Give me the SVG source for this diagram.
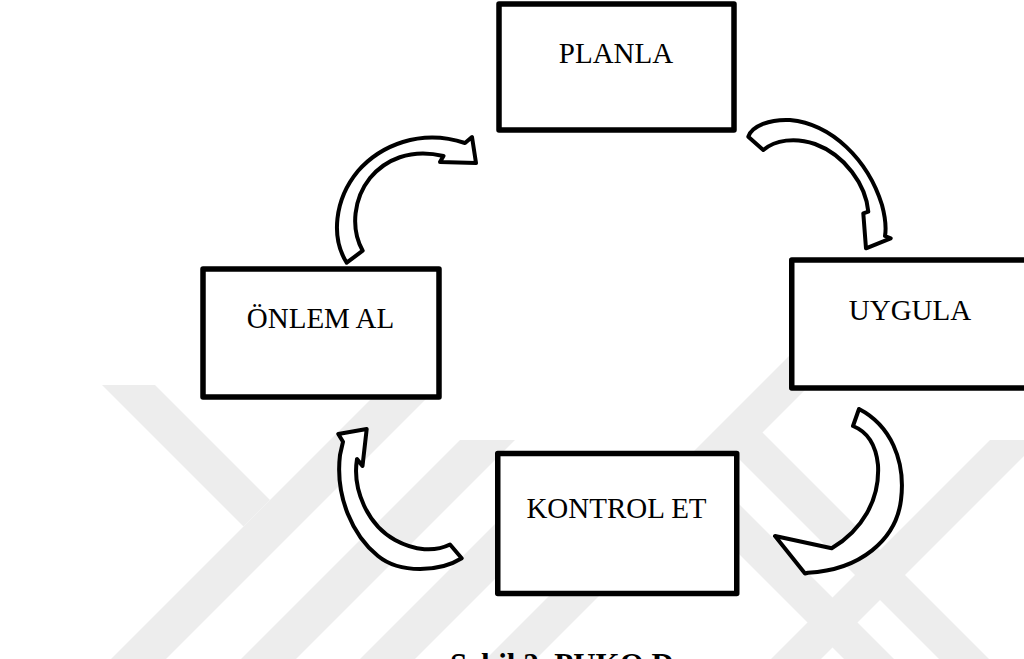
<svg xmlns="http://www.w3.org/2000/svg" width="1024" height="659" viewBox="0 0 1024 659">
  <style>
    .box { fill: #ffffff; stroke: #000000; stroke-width: 5.5; stroke-linejoin: round; }
    .label { font-family: "Liberation Serif", "Times New Roman", serif; font-size: 29px; fill: #000000; text-anchor: middle; }
    .arrow { fill: #ffffff; stroke: #000000; stroke-width: 4; stroke-linejoin: round; }
    .mark { fill: #ededed; }
    .caption { font-family: "Liberation Serif", "Times New Roman", serif; font-size: 31px; font-weight: bold; fill: #000000; }
  </style>

  <rect width="1024" height="659" fill="#ffffff"/>

  <!-- background emblem: light diagonal bands behind the cycle -->
  <g id="emblem">
    <!-- left group -->
    <polygon class="mark" points="385,385 440,385 166,659 111,659"/>
    <polygon class="mark" points="102,385 155,385 270,500 243.5,526.5"/>
    <polygon class="mark" points="460,440 515,440 296,659 241,659"/>
    <polygon class="mark" points="519,500 574,500 415,659 360,659"/>
    <!-- right group -->
    <polygon class="mark" points="855,290 905,290 536,659 486,659"/>
    <polygon class="mark" points="712.5,432.5 762.5,432.5 989,659 939,659"/>
    <polygon class="mark" points="665,480 715,480 894,659 844,659"/>
    <polygon class="mark" points="990,440 1040,440 821,659 771,659"/>
  </g>

  <!-- curved block arrows between the steps -->
  <g id="connectors">
    <path class="arrow" d="M346.7,262.7 C331,238 334,200 358,171 C380,146 420,128 465,143 L472,137 L476,163 L440,162 L443.5,156 C410,148 385,160 370,178 C354,198 350,228 362.7,250.7 Z"/>
    <path class="arrow" d="M748.3,136.7 C752,126 770,119 790,120 C832,124 868,160 882,205 C886,220 886,230 885,236 L890.7,238.3 L866,248.3 L863.3,213.3 L868.3,211.7 C866,185 845,155 815,144 C795,137 775,140 763.3,150 Z"/>
    <path class="arrow" d="M859,409 C890,425 906,460 901,500 C896,540 860,570 808,572.7 L805,573.5 L775,536 L831.7,548.3 C862,530 880,500 878,465 C876,445 868,432 853,426 Z"/>
    <path class="arrow" d="M461.7,558.3 C440,572 400,574 378,556 C353,536 335,497 340,455 L343,441.7 L338.3,434 L366.7,429 L362.5,466 L357,459 C352,490 368,525 395,540 C415,551 435,552 450,544.5 Z"/>
  </g>

  <g id="planla">
    <rect class="box" x="499" y="4" width="235" height="126"/>
    <text class="label" x="616" y="63">PLANLA</text>
  </g>

  <g id="uygula">
    <rect class="box" x="791.75" y="260" width="236" height="128"/>
    <text class="label" x="910" y="320">UYGULA</text>
  </g>

  <g id="kontrol-et">
    <rect class="box" x="497.75" y="453.5" width="239" height="140"/>
    <text class="label" x="616.5" y="518">KONTROL ET</text>
  </g>

  <g id="onlem-al">
    <rect class="box" x="203" y="269" width="236" height="128"/>
    <text class="label" x="320.5" y="328">ÖNLEM AL</text>
  </g>

  <!-- figure caption, running off the bottom edge -->
  <text class="caption" x="450" y="675">Şekil 2. PUKO D</text>
</svg>
